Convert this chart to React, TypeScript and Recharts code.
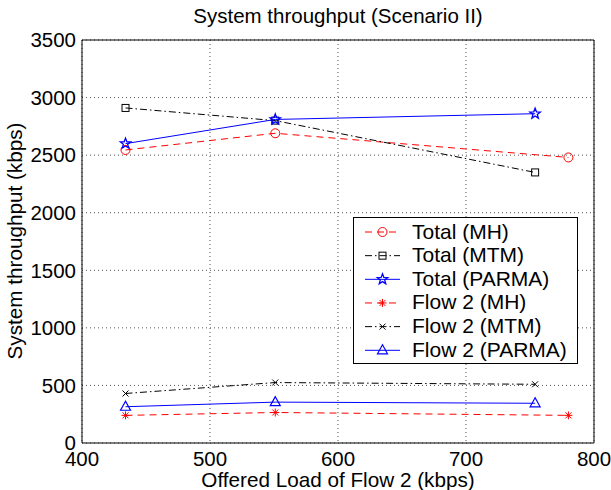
import { LineChart, Line, XAxis, YAxis, CartesianGrid } from 'recharts';

// offered load of flow 2 (kbps) per scheme
const loadMH = [434, 551, 780];
const loadMTM = [434, 551, 754];
const loadPARMA = [434, 551, 754];

// system throughput (kbps)
const totalMH = [2545, 2690, 2480];
const totalMTM = [2910, 2800, 2350];
const totalPARMA = [2600, 2810, 2860];
const flowMH = [240, 265, 240];
const flowMTM = [430, 525, 510];
const flowPARMA = [315, 355, 345];

const xTicks = [400, 500, 600, 700, 800];
const yTicks = [0, 500, 1000, 1500, 2000, 2500, 3000, 3500];

type Kind = 'circle' | 'square' | 'star' | 'asterisk' | 'cross' | 'triangle';

const series: { name: string; x: number[]; y: number[]; color: string; dash?: string; kind: Kind }[] = [
  { name: 'Total (MH)', x: loadMH, y: totalMH, color: '#ff0000', dash: '7 5', kind: 'circle' },
  { name: 'Total (MTM)', x: loadMTM, y: totalMTM, color: '#000000', dash: '7 3 1.5 3', kind: 'square' },
  { name: 'Total (PARMA)', x: loadPARMA, y: totalPARMA, color: '#0000ff', kind: 'star' },
  { name: 'Flow 2 (MH)', x: loadMH, y: flowMH, color: '#ff0000', dash: '7 5', kind: 'asterisk' },
  { name: 'Flow 2 (MTM)', x: loadMTM, y: flowMTM, color: '#000000', dash: '7 3 1.5 3', kind: 'cross' },
  { name: 'Flow 2 (PARMA)', x: loadPARMA, y: flowPARMA, color: '#0000ff', kind: 'triangle' },
];

function starPoints(cx: number, cy: number, ro: number, ri: number) {
  const pts: string[] = [];
  for (let i = 0; i < 10; i++) {
    const r = i % 2 === 0 ? ro : ri;
    const a = -Math.PI / 2 + (i * Math.PI) / 5;
    pts.push(`${cx + r * Math.cos(a)},${cy + r * Math.sin(a)}`);
  }
  return pts.join(' ');
}

function marker(kind: Kind, cx: number, cy: number, color: string) {
  switch (kind) {
    case 'circle':
      return <circle cx={cx} cy={cy} r={4.5} fill="none" stroke={color} />;
    case 'square':
      return <rect x={cx - 3.5} y={cy - 3.5} width={7} height={7} fill="none" stroke={color} />;
    case 'star':
      return <polygon points={starPoints(cx, cy, 5.5, 2.3)} fill="none" stroke={color} strokeWidth={1.3} />;
    case 'asterisk':
      return (
        <g stroke={color}>
          <line x1={cx - 4} y1={cy} x2={cx + 4} y2={cy} />
          <line x1={cx} y1={cy - 4} x2={cx} y2={cy + 4} />
          <line x1={cx - 3} y1={cy - 3} x2={cx + 3} y2={cy + 3} />
          <line x1={cx - 3} y1={cy + 3} x2={cx + 3} y2={cy - 3} />
        </g>
      );
    case 'cross':
      return (
        <g stroke={color}>
          <line x1={cx - 3} y1={cy - 3} x2={cx + 3} y2={cy + 3} />
          <line x1={cx - 3} y1={cy + 3} x2={cx + 3} y2={cy - 3} />
        </g>
      );
    case 'triangle':
      return <polygon points={`${cx},${cy - 5.5} ${cx - 5},${cy + 3.5} ${cx + 5},${cy + 3.5}`} fill="none" stroke={color} strokeWidth={1.2} />;
  }
}

const font = '"Liberation Sans", Arial, Helvetica, sans-serif';

export default function App() {
  return (
    <div style={{ position: 'absolute', left: 0, top: 0, width: 611, height: 490, background: '#fff', fontFamily: font }}>
      <LineChart width={611} height={490} margin={{ top: 40, right: 17, bottom: 22, left: 0 }}>
        <CartesianGrid stroke="#555" strokeDasharray="1 3" />
        <XAxis
          dataKey="load"
          type="number"
          domain={[400, 800]}
          ticks={xTicks}
          allowDataOverflow
          height={25}
          tickLine={false}
          tickSize={6}
          tickMargin={2}
          axisLine={{ stroke: '#000' }}
          tick={{ fill: '#000', fontSize: 20.5 }}
          label={{ value: 'Offered Load of Flow 2 (kbps)', position: 'bottom', offset: 4, fill: '#000', fontSize: 20.7 }}
        />
        <XAxis xAxisId="in" type="number" domain={[400, 800]} ticks={xTicks} allowDataOverflow mirror tick={false} tickSize={5} axisLine={false} tickLine={{ stroke: '#000' }} />
        <XAxis xAxisId="top" orientation="top" type="number" domain={[400, 800]} ticks={xTicks} allowDataOverflow mirror tick={false} tickSize={5} axisLine={{ stroke: '#000' }} tickLine={{ stroke: '#000' }} />
        <YAxis
          type="number"
          domain={[0, 3500]}
          ticks={yTicks}
          allowDataOverflow
          width={82}
          tickLine={false}
          tickSize={4}
          tickMargin={2}
          axisLine={{ stroke: '#000' }}
          tick={{ fill: '#000', fontSize: 20.5 }}
        />
        <YAxis yAxisId="in" type="number" domain={[0, 3500]} ticks={yTicks} allowDataOverflow mirror tick={false} tickSize={5} axisLine={false} tickLine={{ stroke: '#000' }} />
        <YAxis yAxisId="right" orientation="right" type="number" domain={[0, 3500]} ticks={yTicks} allowDataOverflow mirror tick={false} tickSize={5} axisLine={{ stroke: '#000' }} tickLine={{ stroke: '#000' }} />
        {series.map((s) => (
          <Line
            key={s.name}
            name={s.name}
            data={s.x.map((v, i) => ({ load: v, value: s.y[i] }))}
            dataKey="value"
            type="linear"
            stroke={s.color}
            strokeWidth={1}
            strokeDasharray={s.dash}
            isAnimationActive={false}
            dot={(p: any) => <g key={`${s.name}-${p.index}`}>{marker(s.kind, p.cx, p.cy, s.color)}</g>}
            activeDot={false}
          />
        ))}
      </LineChart>
      <svg width={611} height={490} style={{ position: 'absolute', left: 0, top: 0, pointerEvents: 'none' }} fontFamily={font}>
        <text x={338} y={23} textAnchor="middle" fontSize={20.5} fill="#000">
          System throughput (Scenario II)
        </text>
        <text x={22} y={241} textAnchor="middle" fontSize={20.7} fill="#000" transform="rotate(-90, 22, 241)">
          System throughput (kbps)
        </text>
        <rect x={353.5} y={217.5} width={224} height={146} fill="#fff" stroke="#000" />
        {series.map((s, i) => {
          const cy = 232 + i * 23.66;
          return (
            <g key={s.name}>
              <line x1={365} y1={cy} x2={400} y2={cy} stroke={s.color} strokeDasharray={s.dash} />
              {marker(s.kind, 382.5, cy, s.color)}
              <text x={412} y={cy + 6.5} fontSize={21} fill="#000">
                {s.name}
              </text>
            </g>
          );
        })}
      </svg>
    </div>
  );
}
